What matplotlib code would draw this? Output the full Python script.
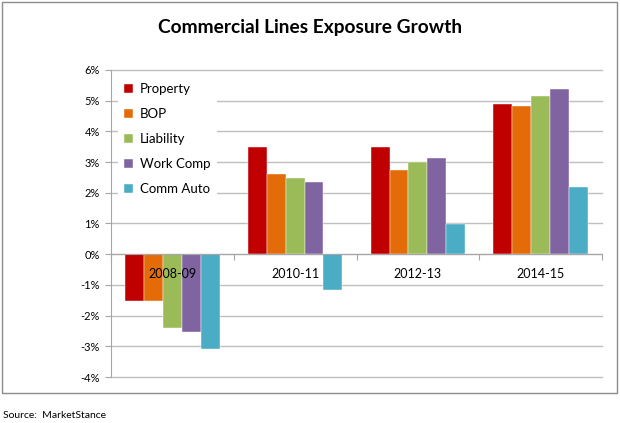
import numpy as np
import matplotlib
matplotlib.use('Agg')
import matplotlib.pyplot as plt
from matplotlib.patches import Rectangle
from matplotlib.ticker import FixedLocator, NullFormatter, FixedFormatter

plt.rcParams['font.family'] = ['Lato', 'DejaVu Sans']

periods = ['2008-09', '2010-11', '2012-13', '2014-15']
series = ['Property', 'BOP', 'Liability', 'Work Comp', 'Comm Auto']
property_ = [-1.52, 3.50, 3.48, 4.88]
bop = [-1.52, 2.61, 2.74, 4.82]
liability = [-2.39, 2.48, 3.00, 5.14]
work_comp = [-2.53, 2.36, 3.12, 5.38]
comm_auto = [-3.10, -1.15, 0.98, 2.18]
yticks = [-4, -3, -2, -1, 0, 1, 2, 3, 4, 5, 6]

colors = ['#C00000', '#E36C09', '#9BBB59', '#8064A2', '#4BACC6']
values = [property_, bop, liability, work_comp, comm_auto]

fig = plt.figure(figsize=(6.2, 4.23), dpi=100)
ax = fig.add_axes([111 / 620, 1 - 377 / 423, 491 / 620, 307 / 423])

# outer chart border
fig.patches.append(Rectangle((2 / 620, 1 - 393 / 423), 615 / 620, 391 / 423,
                             transform=fig.transFigure, fill=False,
                             edgecolor='#8C8C8C', linewidth=1.0))

gray = '#A6A6A6'
for t in yticks:
    ax.axhline(t, color='#BFBFBF', linewidth=1.0, zorder=0, clip_on=False)

x = np.arange(len(periods)) + 0.5
w = 1 / 6.5
for j, (name, vals, c) in enumerate(zip(series, values, colors)):
    ax.bar(x + (j - 2) * w, vals, width=w, color=c, label=name, zorder=1,
           edgecolor='white', linewidth=0.3)

ax.set_xlim(0, 4)
ax.set_ylim(-4, 6)
ax.set_yticks(yticks)
ax.set_yticklabels([f'{t}%' for t in yticks], fontsize=8)
ax.tick_params(axis='y', length=4, color=gray, pad=4)

ax.spines['bottom'].set_position(('data', 0))
ax.spines['bottom'].set_color(gray)
ax.spines['left'].set_color(gray)
ax.spines['top'].set_visible(False)
ax.spines['right'].set_visible(False)

ax.xaxis.set_major_locator(FixedLocator([0, 1, 2, 3, 4]))
ax.xaxis.set_major_formatter(NullFormatter())
ax.xaxis.set_minor_locator(FixedLocator(list(x)))
ax.xaxis.set_minor_formatter(FixedFormatter(periods))
ax.tick_params(axis='x', which='major', length=4, color=gray, direction='out')
ax.tick_params(axis='x', which='minor', length=0, pad=10, labelsize=9)

leg = ax.legend(loc='upper left', bbox_to_anchor=(0.0, 1.0), fontsize=9.5,
                frameon=True, facecolor='white', edgecolor='none', framealpha=1,
                handlelength=0.7, handleheight=0.7, handletextpad=0.5,
                labelspacing=0.98, borderpad=0.5, borderaxespad=0.5,
                fancybox=False)

fig.text(0.5, 1 - 27 / 423, 'Commercial Lines Exposure Growth', ha='center',
         va='center', fontsize=13.8, fontweight='bold')
fig.text(3 / 620, 1 - 415 / 423, 'Source:  MarketStance', ha='left',
         va='center', fontsize=7.5)

fig.savefig('out.png', dpi=100)
